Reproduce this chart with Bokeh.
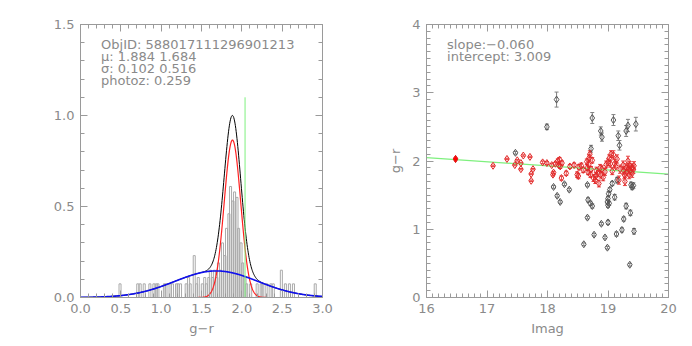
import numpy as np
from bokeh.plotting import figure
from bokeh.layouts import row
from bokeh.models import (Range1d, FixedTicker, LinearAxis, Label, ColumnDataSource,
                          Whisker, TeeHead, NumeralTickFormatter, CustomJSTickFormatter)
from bokeh.embed import file_html
from bokeh.resources import INLINE

# ---------------- data: left panel ----------------
hist_centers = [0.49, 0.71, 0.74, 0.79, 0.86, 0.91, 0.94, 0.96, 1.04, 1.06, 1.11, 1.14,
                1.19, 1.21, 1.24, 1.31, 1.34, 1.36, 1.41, 1.44, 1.46, 1.51, 1.54, 1.56,
                1.59, 1.61, 1.64, 1.66, 1.69, 1.71, 1.74, 1.76, 1.79, 1.81, 1.84, 1.86,
                1.89, 1.91, 1.94, 1.96, 1.99, 2.01, 2.04, 2.06, 2.11, 2.19, 2.24, 2.26,
                2.31, 2.36, 2.39, 2.49, 2.54, 2.59, 2.64, 2.91]
hist_heights = [0.075, 0.075, 0.075, 0.075, 0.075, 0.075, 0.075, 0.075, 0.075, 0.075, 0.075, 0.075,
                0.075, 0.075, 0.075, 0.075, 0.11, 0.075, 0.23, 0.075, 0.11, 0.075, 0.11, 0.075,
                0.11, 0.15, 0.11, 0.15, 0.11, 0.19, 0.15, 0.30, 0.23, 0.38, 0.46, 0.61,
                0.53, 0.58, 0.55, 0.38, 0.30, 0.19, 0.11, 0.075, 0.075, 0.075, 0.075, 0.075,
                0.075, 0.075, 0.075, 0.15, 0.075, 0.075, 0.075, 0.075]
hist_bin_width = 0.025

fit_mu = [1.884, 1.684]
fit_sigma = [0.102, 0.516]
fit_amp = [0.865, 0.146]
photoz_gr = 2.04
photoz_top = 1.1
obj_id = "588017111296901213"
photoz = 0.259

# ---------------- data: right panel ----------------
red_imag = [16.48, 17.10, 17.33, 17.46, 17.50, 17.56, 17.56, 17.60, 17.71, 17.76, 17.73, 17.73,
            17.92, 17.99, 18.07, 18.10, 18.13, 18.17, 18.19, 18.20, 18.21, 18.23, 18.24, 18.31,
            18.37, 18.44, 18.49, 18.51, 18.52, 18.56, 18.59, 18.65, 18.66, 18.67, 18.68, 18.69,
            18.70, 18.71, 18.72, 18.74, 18.76, 18.79, 18.80, 18.81, 18.83, 18.85, 18.87, 18.88,
            18.90, 18.92, 18.95, 18.97, 19.00, 19.02, 19.04, 19.05, 19.07, 19.09, 19.11, 19.13,
            19.15, 19.18, 19.20, 19.25, 19.26, 19.27, 19.28, 19.30, 19.31, 19.33, 19.34, 19.35,
            19.36, 19.37, 19.39, 19.40, 19.42, 19.43, 18.09]
red_gr = [2.03, 1.93, 2.03, 1.94, 2.01, 1.97, 1.88, 2.08, 2.06, 1.88, 1.81, 1.71,
          1.98, 1.97, 1.94, 1.83, 1.96, 2.00, 1.94, 2.02, 1.92, 1.75, 1.97, 1.82,
          1.92, 1.94, 1.80, 1.78, 1.91, 1.93, 1.87, 1.99, 1.90, 1.84, 1.95, 2.05,
          2.10, 1.80, 1.88, 2.01, 1.75, 1.72, 1.78, 1.86, 1.82, 1.67, 1.90, 1.80,
          1.88, 1.76, 1.84, 1.95, 1.98, 2.04, 1.96, 2.10, 1.85, 2.09, 1.96, 1.92,
          2.03, 1.72, 1.88, 1.94, 1.86, 1.80, 1.70, 1.90, 1.84, 2.00, 1.88, 1.80,
          1.93, 1.86, 1.90, 1.82, 1.88, 1.93, 1.80]
red_err = [0.01, 0.01, 0.01, 0.01, 0.01, 0.01, 0.01, 0.01, 0.01, 0.01, 0.01, 0.01,
           0.02, 0.02, 0.02, 0.02, 0.02, 0.03, 0.03, 0.03, 0.03, 0.03, 0.03, 0.03,
           0.03, 0.03, 0.04, 0.04, 0.04, 0.04, 0.04, 0.04, 0.04, 0.04, 0.04, 0.04,
           0.05, 0.04, 0.04, 0.04, 0.05, 0.05, 0.05, 0.05, 0.05, 0.05, 0.05, 0.05,
           0.05, 0.05, 0.05, 0.05, 0.05, 0.05, 0.05, 0.05, 0.05, 0.06, 0.06, 0.06,
           0.06, 0.06, 0.06, 0.06, 0.06, 0.06, 0.06, 0.06, 0.06, 0.07, 0.06, 0.06,
           0.06, 0.06, 0.06, 0.06, 0.06, 0.06, 0.02]

blk_imag = [17.47, 18.10, 18.16, 18.21, 18.28, 18.36, 18.60, 18.66, 18.66, 18.67, 18.71, 18.74,
            18.77, 18.89, 18.95, 18.99, 19.00, 18.99, 19.00, 19.01, 19.02, 19.03, 19.00, 19.07,
            19.11, 19.15, 19.14, 19.23, 19.26, 19.30, 19.37, 19.38, 19.40, 19.42, 19.36, 19.43,
            17.99, 18.15, 18.74, 18.88, 18.90, 19.09, 19.17, 19.19, 19.30, 19.33, 19.46, 18.72]
blk_gr = [2.12, 1.62, 1.49, 1.40, 1.66, 1.58, 0.78, 1.65, 1.17, 1.43, 1.38, 1.34,
          0.92, 1.08, 0.88, 0.73, 1.10, 1.40, 1.45, 1.52, 1.38, 1.58, 1.35, 1.67,
          1.47, 1.72, 0.93, 0.99, 1.15, 1.34, 1.24, 1.65, 1.62, 1.64, 0.48, 0.97,
          2.50, 2.90, 2.63, 2.44, 2.35, 2.60, 2.37, 2.23, 2.44, 2.52, 2.54, 2.18]
blk_err = [0.02, 0.02, 0.02, 0.02, 0.02, 0.02, 0.02, 0.02, 0.02, 0.03, 0.03, 0.03,
           0.02, 0.02, 0.02, 0.02, 0.03, 0.03, 0.03, 0.03, 0.03, 0.03, 0.03, 0.03,
           0.04, 0.04, 0.03, 0.03, 0.03, 0.04, 0.04, 0.04, 0.04, 0.04, 0.02, 0.04,
           0.04, 0.11, 0.08, 0.06, 0.06, 0.08, 0.07, 0.07, 0.08, 0.09, 0.10, 0.05]

fit_slope = -0.060
fit_intercept = 3.009

# ---------------- style ----------------
AX = "#9a9a9a"
TXT = "#8a8a8a"
FONT = "DejaVu Sans"
FS = "13px"


def style_axis(ax, show_labels=True):
    ax.axis_line_color = AX
    ax.major_tick_line_color = AX
    ax.minor_tick_line_color = AX
    ax.major_tick_in = 7
    ax.major_tick_out = 0
    ax.minor_tick_in = 4
    ax.minor_tick_out = 0
    ax.major_label_text_color = TXT
    ax.major_label_text_font = FONT
    ax.major_label_text_font_size = FS
    ax.major_label_standoff = 6
    ax.axis_label_text_color = TXT
    ax.axis_label_text_font = FONT
    ax.axis_label_text_font_size = FS
    ax.axis_label_text_font_style = "normal"
    if not show_labels:
        ax.formatter = CustomJSTickFormatter(code="return ''")
        ax.major_label_standoff = 0


def make_fig(xr, yr, xticks, xminor, yticks, yminor, xfmt, yfmt, bl, br, xlabel, ylabel=None):
    p = figure(width=346, height=338, output_backend="svg", toolbar_location=None,
               x_range=Range1d(*xr), y_range=Range1d(*yr),
               min_border_left=bl, min_border_right=br, min_border_top=24, min_border_bottom=40,
               x_axis_label=xlabel, y_axis_label=ylabel)
    p.grid.visible = False
    p.outline_line_color = None
    p.background_fill_color = "white"
    p.border_fill_color = "white"
    bottom = p.xaxis[0]
    left = p.yaxis[0]
    bottom.ticker = FixedTicker(ticks=xticks, minor_ticks=xminor)
    left.ticker = FixedTicker(ticks=yticks, minor_ticks=yminor)
    bottom.formatter = NumeralTickFormatter(format=xfmt)
    left.formatter = NumeralTickFormatter(format=yfmt)
    style_axis(bottom)
    style_axis(left)
    bottom.axis_label_standoff = 5
    left.axis_label_standoff = 6
    top = LinearAxis(ticker=FixedTicker(ticks=xticks, minor_ticks=xminor))
    right = LinearAxis(ticker=FixedTicker(ticks=yticks, minor_ticks=yminor))
    style_axis(top, False)
    style_axis(right, False)
    p.add_layout(top, "above")
    p.add_layout(right, "right")
    return p


# ---------------- left panel ----------------
p1 = make_fig((0, 3), (0, 1.5),
              list(np.round(np.arange(0, 3.01, 0.5), 2)), list(np.round(np.arange(0, 3.01, 0.1), 2)),
              [0, 0.5, 1.0, 1.5], list(np.round(np.arange(0, 1.51, 0.1), 2)),
              "0.0", "0.0", 80, 24, "g−r")

p1.vbar(x=hist_centers, top=hist_heights, bottom=0, width=hist_bin_width,
        fill_color=None, line_color="#aaaaaa", line_width=1)

xx = np.linspace(0, 3, 601)
g_narrow = fit_amp[0] * np.exp(-(xx - fit_mu[0]) ** 2 / (2 * fit_sigma[0] ** 2))
g_wide = fit_amp[1] * np.exp(-(xx - fit_mu[1]) ** 2 / (2 * fit_sigma[1] ** 2))
p1.line(xx, g_narrow + g_wide, line_color="black", line_width=1)
p1.line(xx, g_narrow, line_color="#ff2020", line_width=1.2)
p1.line(xx, g_wide, line_color="#1010ee", line_width=1.6)
p1.segment(x0=[photoz_gr], y0=[0], x1=[photoz_gr], y1=[photoz_top], line_color="#7ef07e", line_width=1)

left_text = ["ObjID: " + obj_id,
             "μ: %.3f %.3f" % (fit_mu[0], fit_mu[1]),
             "σ: %.3f %.3f" % (fit_sigma[0], fit_sigma[1]),
             "photoz: %.3f" % photoz]
for i, t in enumerate(left_text):
    p1.add_layout(Label(x=0.255, y=1.392 - i * 0.067, text=t, text_color=TXT, text_font=FONT,
                        text_font_size=FS, text_baseline="middle"))

# ---------------- right panel ----------------
p2 = make_fig((16, 20), (0, 4),
              [16, 17, 18, 19, 20], list(np.round(np.arange(16, 20.01, 0.1), 2)),
              [0, 1, 2, 3, 4], list(np.round(np.arange(0, 4.01, 0.1), 2)),
              "0", "0", 80, 24, "Imag", "g−r")

fit_x = [16, 20]
fit_y = [fit_intercept + fit_slope * v for v in fit_x]
p2.line(fit_x, fit_y, line_color="#7ef07e", line_width=1.2)

blk = ColumnDataSource(dict(x=blk_imag, y=blk_gr,
                            lo=[a - b for a, b in zip(blk_gr, blk_err)],
                            hi=[a + b for a, b in zip(blk_gr, blk_err)]))
red = ColumnDataSource(dict(x=red_imag, y=red_gr,
                            lo=[a - b for a, b in zip(red_gr, red_err)],
                            hi=[a + b for a, b in zip(red_gr, red_err)]))

p2.add_layout(Whisker(source=blk, base="x", lower="lo", upper="hi", dimension="height",
                      line_color="#808080", line_width=1,
                      upper_head=TeeHead(size=4, line_color="#808080"),
                      lower_head=TeeHead(size=4, line_color="#808080")))
p2.scatter("x", "y", source=blk, marker="diamond", size=7, fill_color=None,
           line_color="#555555", line_width=1)

p2.add_layout(Whisker(source=red, base="x", lower="lo", upper="hi", dimension="height",
                      line_color="#e84040", line_width=1,
                      upper_head=TeeHead(size=4, line_color="#e84040"),
                      lower_head=TeeHead(size=4, line_color="#e84040")))
p2.scatter("x", "y", source=red, marker="diamond", size=7, fill_color=None,
           line_color="#e02828", line_width=1)
p2.scatter([red_imag[0]], [red_gr[0]], marker="diamond", size=7, fill_color="#ff0000",
           line_color="#e02020")

p2.add_layout(Label(x=16.34, y=3.712, text="slope:%s%.3f" % ("−", abs(fit_slope)),
                    text_color=TXT, text_font=FONT, text_font_size=FS, text_baseline="middle"))
p2.add_layout(Label(x=16.34, y=3.528, text="intercept: %.3f" % fit_intercept,
                    text_color=TXT, text_font=FONT, text_font_size=FS, text_baseline="middle"))

layout = row(p1, p2)
open("out.html", "w").write(file_html(layout, INLINE))
